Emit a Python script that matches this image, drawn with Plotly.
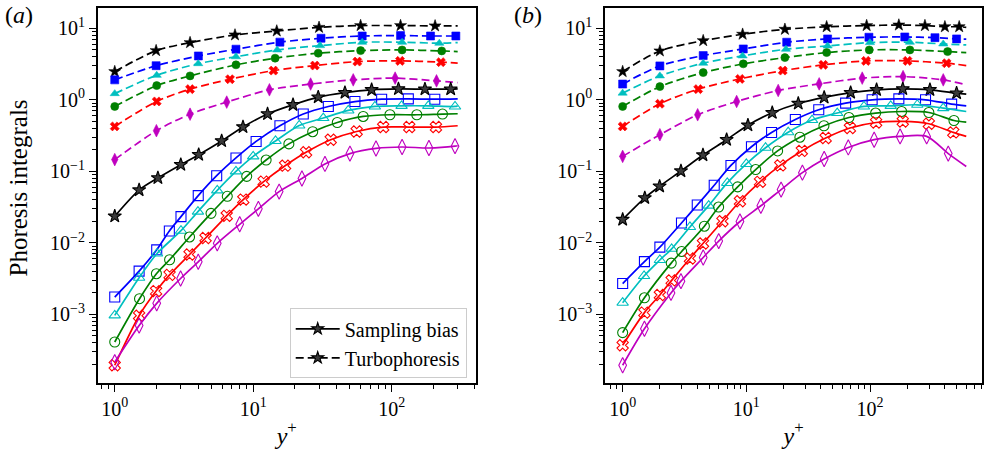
import plotly.graph_objects as go

# ---------------- panel (a): sampling bias (solid lines, open markers) ----------------
a_end_x = 300
a_bias_k_x = [1.0, 1.5, 2.05, 3.0, 4.04, 5.92, 8.44, 12.7, 19.4, 29.5, 46.0, 71.7, 112, 174, 267]
a_bias_k_y = [0.0236, 0.0548, 0.0809, 0.124, 0.171, 0.266, 0.417, 0.634, 0.852, 1.09, 1.26, 1.38, 1.42, 1.41, 1.41]
a_bias_b_x = [1.0, 1.5, 2.01, 2.48, 3.01, 4.01, 5.45, 7.51, 10.5, 15.6, 23.0, 34.9, 54.3, 84.7, 132, 205]
a_bias_b_y = [1.75e-3, 4.03e-3, 8.0e-3, 1.47e-2, 2.33e-2, 4.58e-2, 8.7e-2, 0.154, 0.262, 0.434, 0.634, 0.807, 0.946, 1.02, 1.03, 1.02]
a_bias_c_x = [1.0, 1.5, 2.02, 3.01, 3.99, 5.50, 7.51, 10.0, 14.5, 21.5, 32.1, 48.6, 75.7, 118, 184, 287]
a_bias_c_y = [9.7e-4, 3.26e-3, 7.1e-3, 1.48e-2, 2.74e-2, 5.43e-2, 0.100, 0.162, 0.266, 0.437, 0.556, 0.710, 0.807, 0.824, 0.824, 0.807]
a_bias_g_x = [1.0, 1.51, 2.0, 2.49, 3.47, 4.96, 6.50, 8.98, 12.4, 18.1, 26.9, 40.5, 62.3, 97.2, 152, 233]
a_bias_g_y = [4.12e-4, 1.66e-3, 3.71e-3, 5.81e-3, 1.21e-2, 2.59e-2, 4.48e-2, 8.51e-2, 0.144, 0.242, 0.358, 0.482, 0.585, 0.618, 0.618, 0.632]
a_bias_r_x = [1.0, 1.5, 1.99, 2.49, 3.47, 4.53, 6.44, 8.48, 11.9, 17.0, 24.1, 36.3, 55.9, 86.9, 134, 209]
a_bias_r_y = [1.95e-4, 9.6e-4, 2.12e-3, 3.57e-3, 6.89e-3, 1.17e-2, 2.39e-2, 4.03e-2, 7.18e-2, 0.120, 0.185, 0.277, 0.361, 0.416, 0.416, 0.416]
a_bias_m_x = [1.0, 1.5, 2.01, 2.99, 4.01, 5.50, 7.99, 10.9, 15.4, 22.5, 33.0, 50.0, 77.1, 119, 186, 287]
a_bias_m_y = [2.15e-4, 6.98e-4, 1.43e-3, 3.18e-3, 5.44e-3, 9.86e-3, 1.82e-2, 2.99e-2, 5.21e-2, 7.96e-2, 0.127, 0.177, 0.209, 0.219, 0.212, 0.225]
a_bias_end_y = [1.42, 1.03, 0.824, 0.638, 0.434, 0.228]

# ---------------- panel (a): turbophoresis (dashed lines, filled markers) ----------------
a_turb_k_x = [1.0, 1.99, 3.5, 7.39, 14.8, 29.9, 59.7, 116, 206]
a_turb_k_y = [2.48, 4.87, 6.3, 8.07, 9.17, 10.3, 10.9, 10.9, 10.8]
a_turb_b_x = [1.0, 1.99, 4.02, 7.51, 15.6, 30.9, 61.3, 116, 191, 291]
a_turb_b_y = [1.9, 3.0, 4.1, 5.1, 6.4, 7.25, 7.8, 7.9, 7.8, 7.8]
a_turb_c_x = [1.0, 2.01, 4.01, 7.51, 14.9, 30.4, 61.3, 119, 221]
a_turb_c_y = [1.22, 2.2, 3.2, 4.0, 4.98, 5.72, 6.38, 6.38, 6.18]
a_turb_g_x = [1.0, 2.01, 3.5, 7.51, 14.4, 29.5, 59.7, 119, 230]
a_turb_g_y = [0.807, 1.58, 2.16, 3.08, 3.82, 4.48, 4.87, 4.98, 4.82]
a_turb_r_x = [1.0, 2.01, 3.5, 6.8, 14.0, 27.9, 56.5, 115, 227]
a_turb_r_y = [0.425, 0.95, 1.41, 1.94, 2.56, 3.01, 3.42, 3.50, 3.36]
a_turb_m_x = [1.0, 2.0, 3.5, 6.44, 13.1, 26.0, 52.8, 106, 211]
a_turb_m_y = [0.146, 0.37, 0.63, 0.929, 1.38, 1.66, 1.90, 2.01, 1.84]
a_turb_end_y = [10.8, 7.8, 6.30, 4.72, 3.25, 1.74]

# ---------------- panel (b): sampling bias ----------------
b_end_x = 600
b_bias_k_x = [1.0, 1.51, 1.99, 2.96, 4.46, 6.93, 10.3, 16.2, 26.3, 42.6, 69.7, 113, 184, 305, 501]
b_bias_k_y = [0.0212, 0.0426, 0.0618, 0.101, 0.169, 0.277, 0.441, 0.659, 0.888, 1.08, 1.26, 1.38, 1.42, 1.38, 1.24]
b_bias_b_x = [1.0, 1.5, 2.0, 2.99, 4.01, 5.50, 7.51, 11.0, 16.0, 24.9, 38.5, 63.5, 104, 171, 281, 457]
b_bias_b_y = [2.70e-3, 5.47e-3, 8.73e-3, 1.90e-2, 3.38e-2, 6.38e-2, 0.121, 0.221, 0.350, 0.531, 0.726, 0.899, 1.0, 1.03, 1.0, 0.871]
b_bias_c_x = [1.0, 1.49, 2.0, 2.49, 3.50, 4.96, 7.01, 10.0, 14.3, 21.8, 34.0, 54.3, 89.3, 147, 241, 391]
b_bias_c_y = [1.46e-3, 3.45e-3, 5.77e-3, 8.27e-3, 1.67e-2, 3.32e-2, 6.89e-2, 0.127, 0.214, 0.352, 0.521, 0.653, 0.807, 0.824, 0.852, 0.766]
b_bias_g_x = [1.0, 1.5, 2.47, 3.0, 4.58, 5.97, 8.51, 11.9, 17.9, 27.1, 42.4, 67.5, 111, 180, 299, 477]
b_bias_g_y = [5.57e-4, 1.71e-3, 5.22e-3, 7.59e-3, 1.71e-2, 3.17e-2, 6.06e-2, 0.106, 0.193, 0.300, 0.434, 0.566, 0.653, 0.687, 0.665, 0.514]
b_bias_r_x = [1.0, 1.5, 2.0, 2.49, 3.50, 4.46, 6.41, 8.88, 12.9, 18.8, 28.1, 43.8, 68.8, 112, 184, 299, 471]
b_bias_r_y = [3.71e-4, 1.06e-3, 1.87e-3, 2.99e-3, 6.06e-3, 9.82e-3, 2.01e-2, 3.82e-2, 7.14e-2, 0.121, 0.193, 0.292, 0.403, 0.482, 0.498, 0.463, 0.350]
b_bias_m_x = [1.0, 1.5, 2.46, 2.96, 4.48, 5.98, 8.88, 13.1, 19.1, 28.4, 42.6, 66.7, 108, 175, 287, 429]
b_bias_m_y = [1.95e-4, 6.30e-4, 2.0e-3, 2.92e-3, 6.25e-3, 1.06e-2, 1.99e-2, 3.30e-2, 5.56e-2, 9.59e-2, 0.149, 0.216, 0.277, 0.308, 0.308, 0.177]
b_bias_end_y = [1.20, 0.824, 0.687, 0.489, 0.308, 0.117]

# ---------------- panel (b): turbophoresis ----------------
b_turb_k_x = [1.0, 2.0, 4.48, 9.33, 20.5, 44.6, 93.9, 171, 278, 403, 526]
b_turb_k_y = [2.48, 4.82, 6.71, 8.25, 9.68, 10.5, 10.9, 11.1, 10.9, 10.5, 10.5]
b_turb_b_x = [1.0, 2.0, 4.48, 9.45, 21.2, 45.4, 98, 191, 335, 501]
b_turb_b_y = [1.66, 2.98, 4.15, 5.14, 6.38, 7.10, 7.49, 7.56, 7.39, 7.10]
b_turb_c_x = [1.0, 2.0, 4.48, 9.33, 20.9, 45.4, 99.8, 210, 391]
b_turb_c_y = [1.24, 2.16, 3.25, 4.11, 5.09, 5.66, 6.30, 6.38, 6.04]
b_turb_g_x = [1.0, 2.0, 4.48, 9.45, 20.5, 44.6, 98.6, 210, 424]
b_turb_g_y = [0.807, 1.53, 2.40, 3.18, 3.89, 4.57, 4.98, 4.98, 4.72]
b_turb_r_x = [1.0, 2.0, 4.08, 8.88, 19.7, 41.9, 92.7, 201, 416]
b_turb_r_y = [0.425, 0.88, 1.41, 1.96, 2.56, 3.08, 3.50, 3.50, 3.25]
b_turb_m_x = [1.0, 2.0, 4.04, 8.35, 18.1, 38.8, 86.5, 185, 391]
b_turb_m_y = [0.162, 0.325, 0.618, 0.947, 1.35, 1.67, 2.01, 2.11, 1.90]
b_turb_end_y = [10.3, 7.03, 5.85, 4.57, 3.01, 1.62]

y_tick_vals = [1e-3, 1e-2, 1e-1, 1, 10]
y_tick_text = ["10<sup>\u22123</sup>", "10<sup>\u22122</sup>", "10<sup>\u22121</sup>",
               "10<sup>0</sup>", "10<sup>1</sup>"]
x_tick_vals = [1, 10, 100]
x_tick_text = ["10<sup>0</sup>", "10<sup>1</sup>", "10<sup>2</sup>"]
legend_names = ["Sampling bias", "Turbophoresis"]
y_title = "Phoresis integrals"
x_title = "<i>y</i><sup>+</sup>"

# ---------------- styling ----------------
COLORS = ["#000000", "#0000ff", "#00bfbf", "#008000", "#ff0000", "#bf00bf"]
OPEN_SYMBOLS = ["star", "square-open", "triangle-up-open", "circle-open", "x-open", "diamond-tall-open"]
FILLED_SYMBOLS = ["star", "square", "triangle-up", "circle", "x", "diamond-tall"]
OPEN_SIZES = [10, 10, 10, 10, 10, 11]
FILLED_SIZES = [9, 8, 8, 8, 8, 9]
STAR_FILL = "#3a3a3a"
FONT = "Liberation Serif, Times New Roman, serif"
DASH = "8px,4px"

fig = go.Figure()


def add_series(xs, ys, end_x, end_y, color, symbol, size, dash, xa, ya, fill=None):
    fig.add_trace(go.Scatter(
        x=xs + [end_x], y=ys + [end_y], mode="lines",
        line=dict(color=color, width=1.7, dash=dash, shape="spline", smoothing=0.8),
        xaxis=xa, yaxis=ya, showlegend=False, hoverinfo="skip"))
    open_sym = symbol.endswith("-open")
    fig.add_trace(go.Scatter(
        x=xs, y=ys, mode="markers",
        marker=dict(symbol=symbol, size=size, color=fill or color,
                    line=dict(color=color, width=1.1 if (open_sym or fill) else 0.6)),
        xaxis=xa, yaxis=ya, showlegend=False))


panels = [
    ("x", "y", a_end_x,
     [(a_bias_k_x, a_bias_k_y), (a_bias_b_x, a_bias_b_y), (a_bias_c_x, a_bias_c_y),
      (a_bias_g_x, a_bias_g_y), (a_bias_r_x, a_bias_r_y), (a_bias_m_x, a_bias_m_y)], a_bias_end_y,
     [(a_turb_k_x, a_turb_k_y), (a_turb_b_x, a_turb_b_y), (a_turb_c_x, a_turb_c_y),
      (a_turb_g_x, a_turb_g_y), (a_turb_r_x, a_turb_r_y), (a_turb_m_x, a_turb_m_y)], a_turb_end_y),
    ("x2", "y2", b_end_x,
     [(b_bias_k_x, b_bias_k_y), (b_bias_b_x, b_bias_b_y), (b_bias_c_x, b_bias_c_y),
      (b_bias_g_x, b_bias_g_y), (b_bias_r_x, b_bias_r_y), (b_bias_m_x, b_bias_m_y)], b_bias_end_y,
     [(b_turb_k_x, b_turb_k_y), (b_turb_b_x, b_turb_b_y), (b_turb_c_x, b_turb_c_y),
      (b_turb_g_x, b_turb_g_y), (b_turb_r_x, b_turb_r_y), (b_turb_m_x, b_turb_m_y)], b_turb_end_y),
]

for xa, ya, end_x, bias, bias_end, turb, turb_end in panels:
    for i, (xs, ys) in enumerate(turb):
        add_series(xs, ys, end_x, turb_end[i], COLORS[i], FILLED_SYMBOLS[i], FILLED_SIZES[i], DASH, xa, ya)
    for i, (xs, ys) in enumerate(bias):
        add_series(xs, ys, end_x, bias_end[i], COLORS[i], OPEN_SYMBOLS[i], OPEN_SIZES[i], "solid", xa, ya,
                   fill=STAR_FILL if i == 0 else None)

# legend entries
for name, dash in zip(legend_names, ["solid", DASH]):
    fig.add_trace(go.Scatter(
        x=[None], y=[None], mode="lines+markers", name=name,
        line=dict(color="black", width=1.7, dash=dash),
        marker=dict(symbol="star", size=9, color=STAR_FILL, line=dict(color="black", width=1.1)),
        xaxis="x", yaxis="y", showlegend=True))

minor_x = [m * 10 ** k for k in range(-1, 3) for m in range(2, 10)]
minor_y = [m * 10 ** k for k in range(-4, 2) for m in range(2, 10)]

TITLE_FONT = dict(family=FONT, size=24, color="black")

axis_common = dict(
    type="log", showline=True, mirror=True, linecolor="black", linewidth=1.5,
    showgrid=False, zeroline=False, ticks="outside", ticklen=7, tickwidth=1.2,
    tickcolor="black", tickfont=dict(family=FONT, size=20, color="black"),
)
minor_x_ticks = dict(tickmode="array", tickvals=minor_x, ticks="outside", ticklen=4,
                     tickwidth=1, tickcolor="black")
minor_y_ticks = dict(tickmode="array", tickvals=minor_y, ticks="outside", ticklen=4,
                     tickwidth=1, tickcolor="black")

fig.update_layout(
    width=984, height=458,
    margin=dict(l=0, r=0, t=0, b=0),
    paper_bgcolor="white", plot_bgcolor="white",
    font=dict(family=FONT, color="black"),
    xaxis=dict(**axis_common, domain=[0.0993, 0.4834], range=[-0.123, 2.607], anchor="y",
               tickmode="array", tickvals=x_tick_vals, ticktext=x_tick_text, minor=minor_x_ticks,
               title=dict(text=x_title, font=TITLE_FONT, standoff=8)),
    yaxis=dict(**axis_common, domain=[0.1638, 0.9825], range=[-3.958, 1.283], anchor="x",
               tickmode="array", tickvals=y_tick_vals, ticktext=y_tick_text, minor=minor_y_ticks),
    xaxis2=dict(**axis_common, domain=[0.6148, 0.9983], range=[-0.143, 2.908], anchor="y2",
                tickmode="array", tickvals=x_tick_vals, ticktext=x_tick_text, minor=minor_x_ticks,
                title=dict(text=x_title, font=TITLE_FONT, standoff=8)),
    yaxis2=dict(**axis_common, domain=[0.1638, 0.9825], range=[-3.958, 1.283], anchor="x2",
                tickmode="array", tickvals=y_tick_vals, ticktext=y_tick_text, minor=minor_y_ticks),
    legend=dict(x=0.4743, y=0.174, xanchor="right", yanchor="bottom",
                bgcolor="rgba(255,255,255,0.8)", bordercolor="#cccccc", borderwidth=1,
                font=dict(family=FONT, size=20, color="black"),
                itemwidth=44, tracegroupgap=0),
    annotations=[
        dict(text=y_title, textangle=-90, x=0.0193, y=0.5906, xref="paper", yref="paper",
             xanchor="center", yanchor="middle", showarrow=False,
             font=dict(family=FONT, size=25, color="black")),
        dict(text="(<i>a</i>)", x=0.003, y=0.967, xref="paper", yref="paper",
             xanchor="left", yanchor="middle", showarrow=False, font=TITLE_FONT),
        dict(text="(<i>b</i>)", x=0.52, y=0.967, xref="paper", yref="paper",
             xanchor="left", yanchor="middle", showarrow=False, font=TITLE_FONT),
    ],
)

fig.write_html("out.html")
